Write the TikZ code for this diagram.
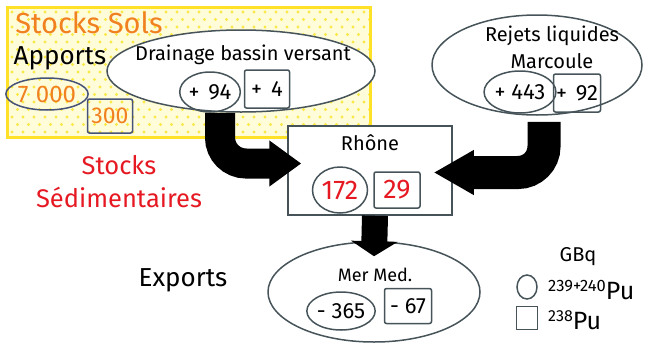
\documentclass[tikz,border=0pt]{standalone}
\usepackage{fontspec}
\setmainfont{Fira Sans}
\usetikzlibrary{shapes.geometric,arrows.meta}

\definecolor{soilorange}{RGB}{240,128,32}
\definecolor{sedred}{RGB}{230,25,35}
\definecolor{soilyellow}{RGB}{255,226,40}
\definecolor{soilback}{RGB}{255,252,218}
\definecolor{dotyellow}{RGB}{250,232,70}
\definecolor{rimgray}{RGB}{70,84,90}
\definecolor{rimblue}{RGB}{70,82,120}

\tikzset{
  rim/.style={draw=rimgray, line width=1.5pt},
  bigoval/.style={rim, ellipse, fill=white, inner sep=0pt},
  numoval/.style={rim, ellipse, inner sep=0pt, font=\fontsize{22}{24}\selectfont},
  numbox/.style={rim, rectangle, rounded corners=2pt, inner sep=0pt, font=\fontsize{22}{24}\selectfont},
  txt/.style={inner sep=0pt, font=\fontsize{20}{22}\selectfont},
  bigtxt/.style={inner sep=0pt, font=\fontsize{26}{28}\selectfont},
  flowarrow/.style={line width=30pt, rounded corners=26pt},
}

\begin{document}
\begin{tikzpicture}[x=1pt,y=-1pt]
\useasboundingbox (0,0) rectangle (647,343);

% stocks sols
\node[rectangle, fill=soilback, minimum width=362pt, minimum height=129pt, inner sep=0pt] (soil) at (189,72.5) {};
\begin{scope}
\clip (soil.north west) rectangle (soil.south east);
\foreach \r in {0,...,17}
  \foreach \c in {0,...,33}
    \fill[dotyellow] ({12+\c*11+mod(\r,2)*5.5},{12+\r*7.5}) circle (1.6pt);
\end{scope}
\draw[soilyellow, line width=3pt] (soil.north west) rectangle (soil.south east);

\node[bigtxt, text=soilorange, font=\fontsize{29}{31}\selectfont] (stocksols) at (89,23) {Stocks Sols};
\node[bigtxt] (apports) at (60,58) {Apports};
\node[numoval, minimum width=69pt, minimum height=32pt, text=soilorange, font=\fontsize{24}{26}\selectfont, draw=rimblue] (s7000) at (47,94) {7\hspace{1pt} 000};
\node[numbox, minimum width=45pt, minimum height=34pt, text=soilorange, font=\fontsize{23}{25}\selectfont, draw=rimblue] (s300) at (110,116) {300};

% drainage
\node[bigoval, minimum width=268pt, minimum height=82pt] (drain) at (241,71) {};
\node[txt] (draintxt) at (243,55) {Drainage bassin versant};
\node[numoval, minimum width=54pt, minimum height=40pt] (p94) at (210,92) {+\hspace{3pt} 94};
\node[numbox, minimum width=45pt, minimum height=38pt] (p4) at (267,89) {+\hspace{3pt} 4};

% marcoule
\node[bigoval, minimum width=210pt, minimum height=100pt] (rejets) at (537,65) {};
\node[txt, align=center, font=\fontsize{20}{27}\selectfont] (rejetstxt) at (552,47) {Rejets liquides\\Marcoule};
\node[numoval, minimum width=54pt, minimum height=42pt] (p443) at (520,92) {+ 443};
\node[numbox, minimum width=47pt, minimum height=38pt] (p92) at (577,93) {+\hspace{3pt} 92};

% rhone
\node[rim, rectangle, fill=white, minimum width=164pt, minimum height=89pt, inner sep=0pt] (rhone) at (370,170.5) {};
\node[txt] (rhonetxt) at (370,143) {Rhône};
\node[numoval, minimum width=55pt, minimum height=46pt, text=sedred, font=\fontsize{27}{29}\selectfont] (r172) at (340,190) {172};
\node[numbox, minimum width=46pt, minimum height=36pt, text=sedred, font=\fontsize{27}{29}\selectfont] (r29) at (397,190) {29};

\node[bigtxt, text=sedred, align=center, font=\fontsize{25.5}{33}\selectfont] (sedim) at (119,182) {Stocks\\Sédimentaires};

% mer
\node[bigoval, minimum width=212pt, minimum height=100pt] (mermed) at (374,292) {};
\node[txt, font=\fontsize{18}{20}\selectfont] (mertxt) at (375,275) {Mer Med.};
\node[numoval, minimum width=53pt, minimum height=38pt] (m365) at (341,311) {- 365};
\node[numbox, minimum width=47pt, minimum height=35pt] (m67) at (408,306) {- 67};
\node[bigtxt] (exports) at (183,280) {Exports};

% legende
\node[txt] (gbq) at (578,257) {GBq};
\node[rim, ellipse, minimum width=20pt, minimum height=24pt, inner sep=0pt] (legoval) at (527,287) {};
\node[inner sep=0pt, anchor=west] (legpu9) at (548,290) {\fontsize{16.5}{16}\selectfont\raisebox{8pt}{239+240}\fontsize{25}{26}\selectfont Pu};
\node[rim, rectangle, minimum width=21pt, minimum height=23pt, inner sep=0pt] (legbox) at (527,318) {};
\node[inner sep=0pt, anchor=west] (legpu8) at (548,320) {\fontsize{16}{16}\selectfont\raisebox{8pt}{238}\fontsize{25}{26}\selectfont Pu};

% fleches
\draw[flowarrow, -{Triangle[length=32pt,width=44pt]}] ([xshift=10pt]p94.south) |- ([shift={(14pt,7pt)}]rhone.west);
\draw[flowarrow, line width=33pt, -{Triangle[length=40pt,width=42pt]}] ([shift={(7pt,-6pt)}]rejets.south) |- ([shift={(-19pt,-2pt)}]rhone.east);
\draw[line width=26pt, -{Triangle[length=15pt,width=46pt]}] ([xshift=5pt]rhone.south) -- ([yshift=-15pt]mermed.north);
\end{tikzpicture}
\end{document}
